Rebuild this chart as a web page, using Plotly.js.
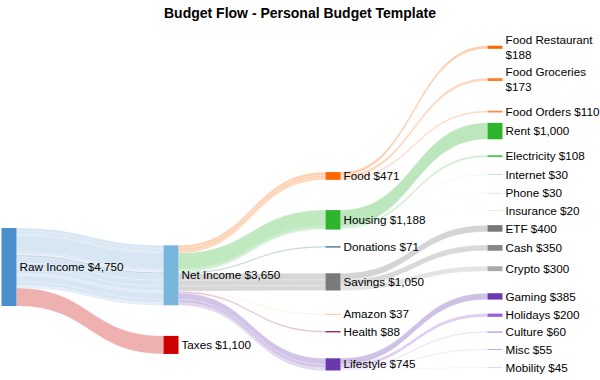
<!DOCTYPE html>
<html>
<head>
<meta charset="utf-8">
<script src="https://cdn.plot.ly/plotly-3.0.1.min.js"></script>
<style>html,body{margin:0;padding:0;background:#fff;overflow:hidden;}#chart{width:600px;height:380px;overflow:hidden;}</style>
</head>
<body>
<div id="chart"></div>
<script>
// ---- data ----
const rawIncomeName = "Raw Income";
const netIncomeName = "Net Income";
const taxesName = "Taxes";
const taxesValue = 1100;

const categories = ["Food", "Housing", "Donations", "Savings", "Amazon", "Health", "Lifestyle"];

const foodItems = ["Food Restaurant", "Food Groceries", "Food Orders"];
const foodValues = [188, 173, 110];
const housingItems = ["Rent", "Electricity", "Internet", "Phone", "Insurance"];
const housingValues = [1000, 108, 30, 30, 20];
const donationsValue = 71;
const savingsItems = ["ETF", "Cash", "Crypto"];
const savingsValues = [400, 350, 300];
const amazonValue = 37;
const healthValue = 88;
const lifestyleItems = ["Gaming", "Holidays", "Culture", "Misc", "Mobility"];
const lifestyleValues = [385, 200, 60, 55, 45];

// ---- layout of the nodes (vertical centre as a fraction of the domain) ----
const posRaw = 0.688, posNet = 0.713, posTaxes = 0.924;
const posCat = {Food: 0.412, Housing: 0.545, Donations: 0.627, Savings: 0.733, Amazon: 0.831, Health: 0.884, Lifestyle: 0.983};
const posLeaf = {
  Food: [0.022, 0.120, 0.217],
  Housing: [0.276, 0.352, 0.408, 0.464, 0.517],
  Savings: [0.571, 0.630, 0.693],
  Lifestyle: [0.777, 0.834, 0.885, 0.938, 0.993]
};
const colX = d => 0.015 + d * 0.27;
const margin = {l: 0, r: 0, t: 40, b: 10};
const figW = 600, figH = 380;
const nodePad = 15;
const pxPerDollar = 0.01642;   // node thickness scale seen in the reference

// ---- colours ----
const rgb = {
  raw: [74, 143, 201], net: [120, 182, 222], taxes: [204, 0, 0],
  Food: [255, 102, 0], Housing: [46, 181, 46], Donations: [31, 95, 143],
  Savings: [122, 122, 122], Amazon: [255, 165, 80], Health: [160, 40, 110],
  Lifestyle: [106, 58, 173]
};
const leafRgb = {
  Food: [[255, 102, 0], [255, 127, 42], [255, 140, 66]],
  Housing: [[46, 181, 46], [76, 196, 76], [134, 214, 134], [168, 226, 168], [184, 232, 184]],
  Savings: [[120, 120, 120], [136, 136, 136], [170, 170, 170]],
  Lifestyle: [[106, 58, 173], [154, 98, 217], [164, 122, 232], [192, 164, 240], [212, 192, 246]]
};
const solid = c => `rgb(${c[0]},${c[1]},${c[2]})`;
const alpha = (c, a) => `rgba(${c[0]},${c[1]},${c[2]},${a})`;

// ---- build ----
const groups = {
  Food: [foodItems, foodValues],
  Housing: [housingItems, housingValues],
  Donations: [[], [donationsValue]],
  Savings: [savingsItems, savingsValues],
  Amazon: [[], [amazonValue]],
  Health: [[], [healthValue]],
  Lifestyle: [lifestyleItems, lifestyleValues]
};
const fmt = v => "$" + v.toLocaleString("en-US");
const sum = a => a.reduce((s, v) => s + v, 0);

const labels = [], colors = [], nx = [], ny = [];
function addNode(name, value, color, depth, y) {
  const txt = name === "" ? "" : (name.length >= 14 ? name + "<br>" + fmt(value) : name + " " + fmt(value));
  labels.push(txt); colors.push(color); nx.push(colX(depth)); ny.push(y);
  return labels.length - 1;
}
const catTotals = categories.map(c => sum(groups[c][1]));
const netTotal = sum(catTotals);
const rawTotal = netTotal + taxesValue;

const iRaw = addNode(rawIncomeName, rawTotal, solid(rgb.raw), 0, posRaw);
const iNet = addNode(netIncomeName, netTotal, solid(rgb.net), 1, posNet);
const iTax = addNode(taxesName, taxesValue, solid(rgb.taxes), 1, posTaxes);
const iCat = {};
categories.forEach((c, k) => { iCat[c] = addNode(c, catTotals[k], solid(rgb[c]), 2, posCat[c]); });
const iLeaf = {};
let leafCount = 0, leafSum = 0;
categories.forEach(c => {
  const [items, vals] = groups[c];
  iLeaf[c] = items.map((it, j) => addNode(it, vals[j], solid(leafRgb[c][j]), 3, posLeaf[c][j]));
  leafCount += items.length; leafSum += items.length ? sum(vals) : 0;
});

const src = [], tgt = [], val = [], lcol = [];
function link(s, t, v, col) { src.push(s); tgt.push(t); val.push(v); lcol.push(col); }

categories.forEach(c => {
  groups[c][1].forEach(v => link(iRaw, iNet, v, c === "Donations" ? alpha(rgb.Donations, 0.35) : alpha(rgb.raw, 0.22)));
});
link(iRaw, iTax, taxesValue, alpha(rgb.taxes, 0.31));
categories.forEach(c => {
  groups[c][1].forEach(v => link(iNet, iCat[c], v, alpha(rgb[c], 0.3)));
});
categories.forEach(c => {
  const [items, vals] = groups[c];
  items.forEach((it, j) => link(iCat[c], iLeaf[c][j], vals[j], alpha(leafRgb[c][j], 0.32)));
});

// Invisible helper chain, placed far outside the picture: it sets the node scale
// to the reference's and adds a fifth layer so the leaf labels sit on the right.
const domainH = figH - margin.t - margin.b;
const L = leafCount + 1;
const padEff = Math.min(nodePad, (2 / 3) * domainH / (L - 1));
const helperFlow = (domainH - (L - 1) * padEff) / pxPerDollar - leafSum;
const helpers = [0, 1, 2, 3, 4].map(d => addNode("", 0, "rgba(0,0,0,0)", d, 9));
for (let d = 0; d < 4; d++) link(helpers[d], helpers[d + 1], helperFlow, "rgba(0,0,0,0)");

const trace = {
  type: "sankey",
  orientation: "h",
  arrangement: "fixed",
  node: {
    label: labels, color: colors, pad: nodePad, thickness: 15,
    x: nx, y: ny,
    line: {width: 0},
    align: "left",
    hoverinfo: "none"
  },
  link: {source: src, target: tgt, value: val, color: lcol, line: {color: "rgba(255,255,255,0.85)", width: 0.3}, hoverinfo: "none"},
  textfont: {family: "Liberation Sans, Arial, sans-serif", size: 11.7, color: "#000", shadow: "none"},
  domain: {x: [0, 1], y: [0, 1]}
};

const layout = {
  width: figW, height: figH,
  margin: margin,
  paper_bgcolor: "#fff",
  font: {family: "Liberation Sans, Arial, sans-serif", size: 12, color: "#000"},
  title: {text: "<b>Budget Flow - Personal Budget Template</b>", x: 0.5, xanchor: "center", y: 0.966, yanchor: "middle",
          font: {family: "Liberation Sans, Arial, sans-serif", size: 14, color: "#000"}}
};
Plotly.newPlot("chart", [trace], layout, {displayModeBar: false, staticPlot: true});
</script>
</body>
</html>
